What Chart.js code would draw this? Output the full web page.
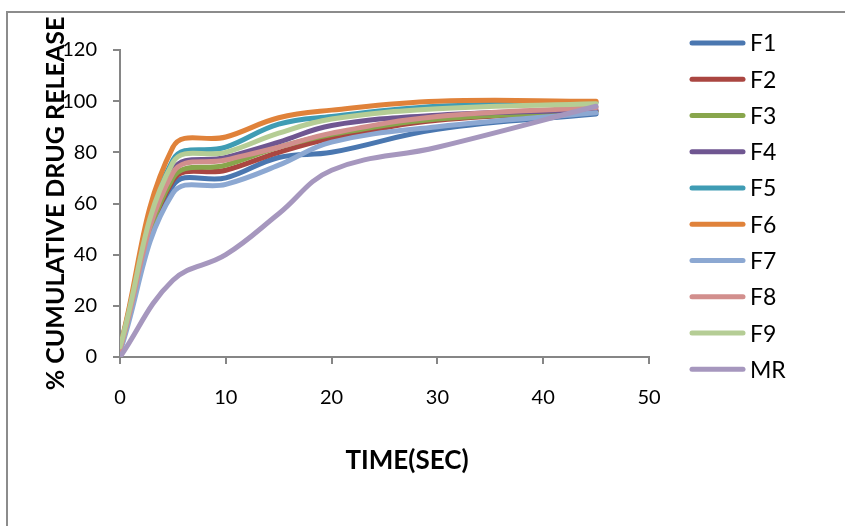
<!DOCTYPE html>
<html>
<head>
<meta charset="utf-8">
<script src="https://cdn.jsdelivr.net/npm/chart.js@4"></script>
<style>
  html, body { margin: 0; padding: 0; background: #fff; }
  #wrap { position: relative; width: 845px; height: 526px; }
</style>
</head>
<body>
<div id="wrap"><canvas id="releaseChart" width="845" height="526"></canvas></div>
<script>
// Tiempos de muestreo (eje X)
const times = [0, 5, 10, 15, 20, 30, 45];

// % liberado por formulación
const seriesNames = ['F1', 'F2', 'F3', 'F4', 'F5', 'F6', 'F7', 'F8', 'F9', 'MR'];
const F1 = [3, 67, 70, 78, 80, 89, 95];
const F2 = [3, 69, 73, 80, 85.5, 92.5, 96];
const F3 = [3, 70, 75, 82, 87, 93, 96];
const F4 = [3, 73, 78, 84, 90.5, 94.5, 96.5];
const F5 = [4, 77, 82, 91, 94, 98, 99.5];
const F6 = [4, 82, 86, 93.5, 96.5, 100, 100];
const F7 = [2, 64, 67.5, 75, 84, 90, 95.5];
const F8 = [3, 72, 77, 82, 87.5, 94, 97.5];
const F9 = [4, 76, 80, 87.5, 93, 97, 99];
const MR = [0, 30, 40, 56, 73, 82, 98];

const yTicks = [0, 20, 40, 60, 80, 100, 120];
const xTicks = [0, 10, 20, 30, 40, 50];

const seriesValues = [F1, F2, F3, F4, F5, F6, F7, F8, F9, MR];
const colors = ['#4a77b0', '#aa4641', '#88a64c', '#6f5691', '#3f9cb4',
                '#e0823a', '#8ca8d2', '#d28f8d', '#b5cd95', '#a697be'];

const axisGray = '#868686';
const tickFont = { family: 'Lato', size: 20 };

// Marco gris del gráfico
const framePlugin = {
  id: 'frame',
  beforeDraw(chart) {
    const ctx = chart.ctx;
    ctx.save();
    ctx.strokeStyle = '#8c8c8c';
    ctx.lineWidth = 2;
    ctx.beginPath();
    ctx.moveTo(7, 530);
    ctx.lineTo(7, 12);
    ctx.lineTo(850, 12);
    ctx.stroke();
    ctx.restore();
  }
};

// Título del eje X y leyenda a la derecha
const extrasPlugin = {
  id: 'extras',
  afterDraw(chart) {
    const ctx = chart.ctx;
    ctx.save();
    ctx.fillStyle = '#000';
    ctx.font = 'bold 26px Lato';
    ctx.textAlign = 'center';
    ctx.textBaseline = 'middle';
    ctx.fillText('TIME(SEC)', 407, 461);

    ctx.font = '23px Lato';
    ctx.textAlign = 'left';
    chart.data.datasets.forEach((ds, i) => {
      const y = 43 + i * 36.26;
      ctx.strokeStyle = ds.borderColor;
      ctx.lineWidth = 5;
      ctx.lineCap = 'round';
      ctx.beginPath();
      ctx.moveTo(692, y);
      ctx.lineTo(743, y);
      ctx.stroke();
      ctx.fillText(ds.label, 750, y + 1);
    });
    ctx.restore();
  }
};

const datasets = seriesNames.map((name, i) => ({
  label: name,
  data: times.map((t, j) => ({ x: t, y: seriesValues[i][j] })),
  borderColor: colors[i],
  backgroundColor: colors[i],
  borderWidth: 5,
  borderCapStyle: 'round',
  borderJoinStyle: 'round',
  pointRadius: 0,
  tension: 0.4,
  fill: false,
  order: seriesNames.length - i
}));

new Chart(document.getElementById('releaseChart'), {
  type: 'line',
  data: { datasets },
  options: {
    responsive: false,
    animation: false,
    layout: { padding: { top: 50, right: 196, bottom: 0, left: 0 } },
    plugins: { legend: { display: false }, tooltip: { enabled: false } },
    scales: {
      x: {
        type: 'linear',
        min: 0,
        max: 50,
        afterFit(scale) { scale.height = 169; },
        afterBuildTicks(scale) { scale.ticks = xTicks.map(v => ({ value: v })); },
        grid: { drawOnChartArea: false, tickLength: 7, color: axisGray, lineWidth: 2 },
        border: { color: axisGray, width: 2 },
        ticks: { color: '#000', font: tickFont, padding: 22, maxRotation: 0 }
      },
      y: {
        min: 0,
        max: 120,
        afterFit(scale) { scale.width = 120; },
        afterBuildTicks(scale) { scale.ticks = yTicks.map(v => ({ value: v })); },
        grid: { drawOnChartArea: false, tickLength: 7, color: axisGray, lineWidth: 2 },
        border: { color: axisGray, width: 2 },
        ticks: { color: '#000', font: tickFont, padding: 16 },
        title: {
          display: true,
          text: '% CUMULATIVE DRUG RELEASE',
          color: '#000',
          font: { family: 'Lato', size: 25, weight: 'bold' },
          padding: { top: 41, bottom: 0 }
        }
      }
    }
  },
  plugins: [framePlugin, extrasPlugin]
});
</script>
</body>
</html>
